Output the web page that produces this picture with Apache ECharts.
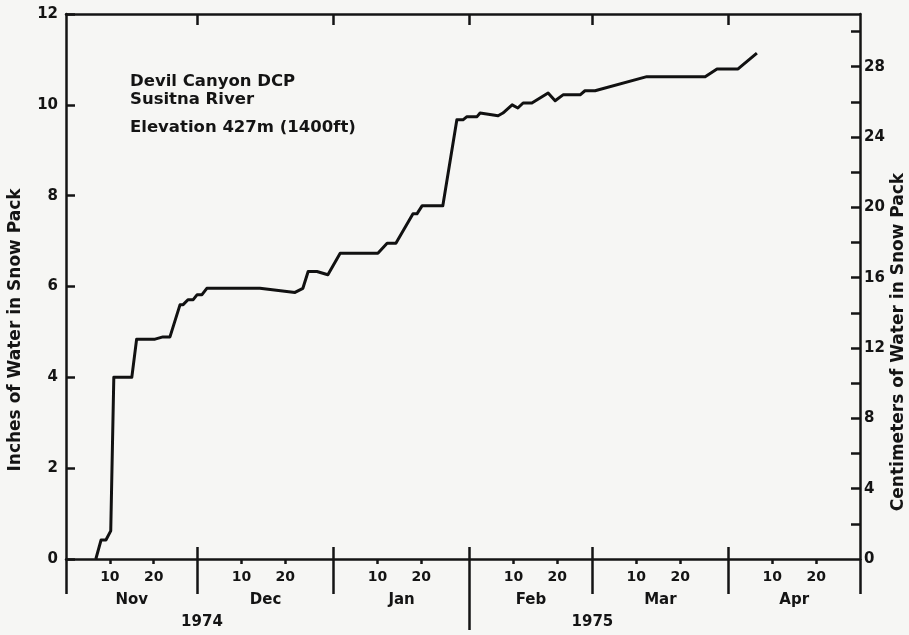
<!DOCTYPE html>
<html><head><meta charset="utf-8">
<script src="https://cdn.jsdelivr.net/npm/echarts@6/dist/echarts.min.js"></script>
<style>html,body{margin:0;padding:0;background:#f6f6f4}#c{width:909px;height:635px}</style>
</head><body><div id="c"></div>
<script>
// Days elapsed since 1 Nov 1974 (0 = Nov 1)
const days = [6.8, 8.0, 9.1, 10.2, 10.9, 15.0, 16.1, 20.3, 22.1, 23.7, 26.0, 26.7, 27.8, 29.0, 29.9, 31.0, 32.1, 44.2, 52.2, 54.0, 55.2, 57.2, 59.7, 62.5, 71.1, 73.2, 75.2, 79.1, 80.0, 81.2, 85.9, 89.1, 90.5, 91.4, 93.7, 94.4, 98.5, 99.6, 101.7, 103.0, 104.2, 106.2, 109.9, 111.5, 113.3, 117.2, 118.3, 120.6, 132.4, 145.7, 148.4, 153.2, 157.5];
// Inches of water in snow pack
const inches = [0, 0.42, 0.42, 0.62, 4.0, 4.0, 4.84, 4.84, 4.89, 4.89, 5.6, 5.6, 5.71, 5.71, 5.82, 5.82, 5.96, 5.96, 5.87, 5.96, 6.33, 6.33, 6.26, 6.73, 6.73, 6.95, 6.95, 7.6, 7.6, 7.78, 7.78, 9.67, 9.67, 9.74, 9.74, 9.82, 9.76, 9.82, 10.0, 9.93, 10.04, 10.04, 10.26, 10.09, 10.22, 10.22, 10.31, 10.31, 10.62, 10.62, 10.79, 10.79, 11.14];

const monthStarts = [0, 30, 61, 92, 120, 151, 181];
const monthNames = ['Nov', 'Dec', 'Jan', 'Feb', 'Mar', 'Apr'];
const dayOfMonthTicks = [10, 20];
const yearNames = ['1974', '1975'];
const yearAt = [31, 120];
const inchTicks = [0, 2, 4, 6, 8, 10, 12];
const cmLabels = [0, 4, 8, 12, 16, 20, 24, 28];
const cmTicks = [2, 4, 6, 8, 10, 12, 14, 16, 18, 20, 22, 24, 26, 28, 30];

const AX = '#141414';
const FONT = 'DejaVu Sans';

const dayTickValues = [], dayTickText = {};
for (let m = 0; m < monthNames.length; m++) {
  dayOfMonthTicks.forEach(d => { const v = monthStarts[m] + d; dayTickValues.push(v); dayTickText[v] = String(d); });
}
const monthMids = monthNames.map((_, i) => (monthStarts[i] + monthStarts[i + 1]) / 2);
const innerBounds = monthStarts.slice(1, -1);
const yearBoundary = monthStarts[3];
const lowerBounds = monthStarts.filter(v => v !== yearBoundary);

const lbl = {color: AX, fontFamily: FONT, fontWeight: 'bold', fontSize: 14};
const base = {type: 'value', min: monthStarts[0], max: monthStarts[monthStarts.length - 1], gridIndex: 0, position: 'bottom', splitLine: {show: false}, axisLine: {show: false, onZero: false}};
const tickStyle = {color: AX, width: 2.5};
const lineStyle = {color: AX, width: 2.5};

const option = {
  backgroundColor: '#f6f6f4',
  animation: false,
  grid: {left: 66, right: 49, top: 14, bottom: 76, containLabel: false},
  xAxis: [
    Object.assign({}, base, {
      axisLine: {show: true, onZero: false, lineStyle: lineStyle},
      axisTick: {show: true, customValues: dayTickValues, length: 5, inside: false, lineStyle: tickStyle},
      axisLabel: Object.assign({}, lbl, {customValues: dayTickValues, margin: 11, formatter: v => dayTickText[Math.round(v)] || ''})
    }),
    Object.assign({}, base, {
      axisTick: {show: true, customValues: innerBounds, length: 12, inside: true, lineStyle: tickStyle},
      axisLabel: {show: false}
    }),
    Object.assign({}, base, {
      axisTick: {show: true, customValues: lowerBounds, length: 35, inside: false, lineStyle: tickStyle},
      axisLabel: Object.assign({}, lbl, {fontSize: 15, customValues: monthMids, margin: 34, formatter: v => monthNames[monthMids.indexOf(v)] || ''})
    }),
    Object.assign({}, base, {
      axisTick: {show: true, customValues: [yearBoundary], length: 71, inside: false, lineStyle: tickStyle},
      axisLabel: Object.assign({}, lbl, {fontSize: 15, customValues: yearAt, margin: 56, formatter: v => yearNames[yearAt.indexOf(v)] || ''})
    }),
    Object.assign({}, base, {
      position: 'top',
      axisLine: {show: true, onZero: false, lineStyle: lineStyle},
      axisTick: {show: true, customValues: innerBounds, length: 11, inside: true, lineStyle: tickStyle},
      axisLabel: {show: false}
    })
  ],
  yAxis: [
    {type: 'value', min: 0, max: 12, interval: 2, position: 'left', splitLine: {show: false},
     axisLine: {show: true, onZero: false, lineStyle: lineStyle},
     axisTick: {show: true, inside: true, length: 9, customValues: inchTicks, lineStyle: tickStyle},
     axisLabel: Object.assign({}, lbl, {fontSize: 15, margin: 8, customValues: inchTicks})},
    {type: 'value', min: 0, max: 31, position: 'right', splitLine: {show: false},
     axisLine: {show: true, onZero: false, lineStyle: lineStyle},
     axisTick: {show: true, inside: true, length: 9, customValues: cmTicks, lineStyle: tickStyle},
     axisLabel: Object.assign({}, lbl, {fontSize: 15, margin: 4, customValues: cmLabels})}
  ],
  graphic: [
    {type: 'text', left: 130, top: 73, style: {text: 'Devil Canyon DCP\nSusitna River', fill: AX, font: 'bold 16.5px "DejaVu Sans"', lineHeight: 18}},
    {type: 'text', left: 130, top: 119, style: {text: 'Elevation 427m (1400ft)', fill: AX, font: 'bold 16.5px "DejaVu Sans"'}},
    {type: 'text', x: 16, y: 330, rotation: Math.PI / 2, style: {text: 'Inches of Water in Snow Pack', fill: AX, font: 'bold 17px "DejaVu Sans"', align: 'center', verticalAlign: 'middle'}},
    {type: 'text', x: 899, y: 342, rotation: Math.PI / 2, style: {text: 'Centimeters of Water in Snow Pack', fill: AX, font: 'bold 17px "DejaVu Sans"', align: 'center', verticalAlign: 'middle'}}
  ],
  series: [{
    type: 'line', xAxisIndex: 0, yAxisIndex: 0, showSymbol: false, symbol: 'none',
    lineStyle: {color: '#111', width: 3, join: 'round'},
    data: days.map((d, i) => [d, inches[i]])
  }]
};
echarts.init(document.getElementById('c'), null, {renderer: 'canvas'}).setOption(option);
</script></body></html>
